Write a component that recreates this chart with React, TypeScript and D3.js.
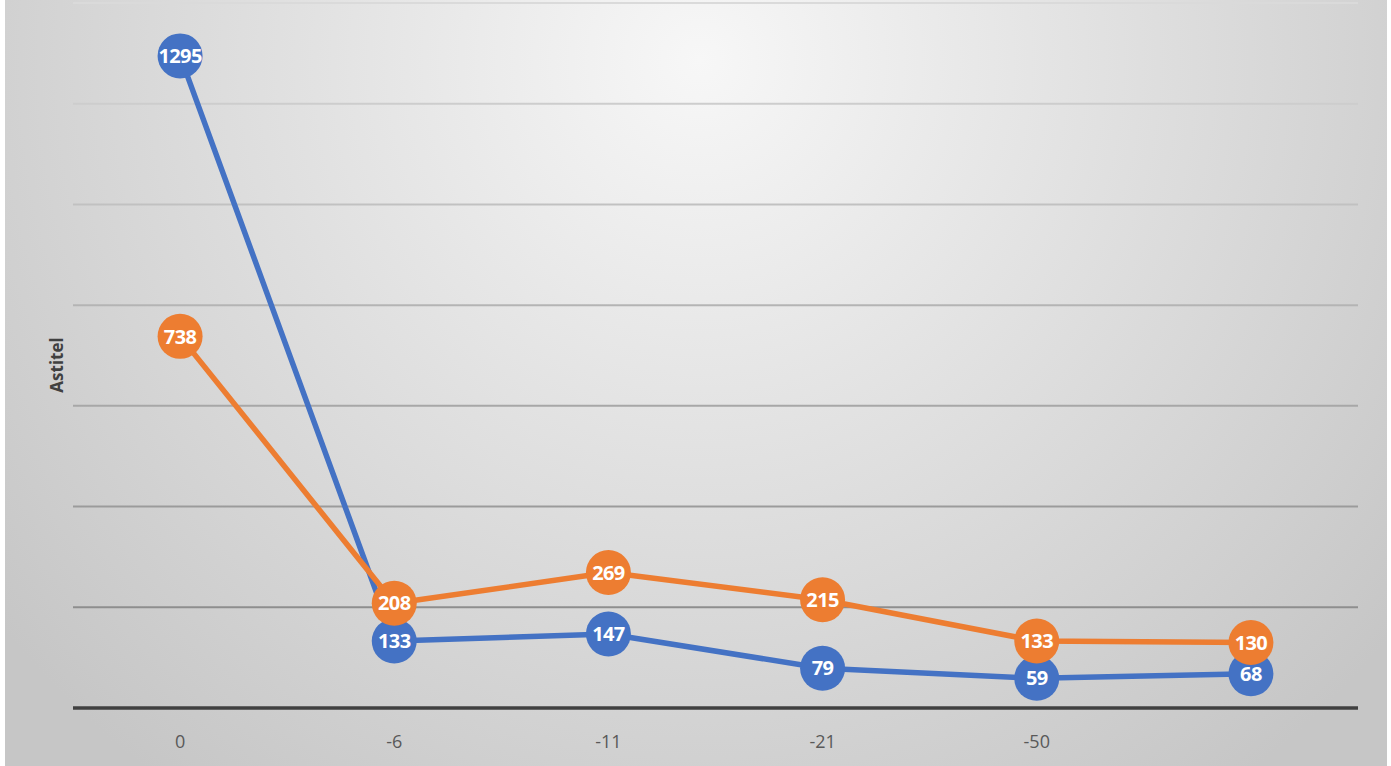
import React from "react";
import * as d3 from "d3";

const categories = ["0", "-6", "-11", "-21", "-50", ""];
const seriesBlue = [1295, 133, 147, 79, 59, 68];
const seriesOrange = [738, 208, 269, 215, 133, 130];
const yTicks = [0, 200, 400, 600, 800, 1000, 1200, 1400];
const yTitle = "Astitel";

const W = 1391;
const H = 766;

export default function App() {
  const x = d3.scaleBand<string>().domain(categories.map((c, i) => String(i))).range([73, 1358]);
  const y = d3.scaleLinear().domain([0, 1400]).range([708, 3]);
  const cx = (i: number) => (x(String(i)) as number) + x.bandwidth() / 2;
  const line = d3
    .line<number>()
    .x((_, i) => cx(i))
    .y((d) => y(d));
  const gridColor = d3.scaleLinear<string>().domain([3, 607]).range(["#dadada", "#8e8e8e"]);

  const series = [
    { values: seriesBlue, color: "#4472C4" },
    { values: seriesOrange, color: "#ED7D31" },
  ];

  return (
    <svg width={W} height={H} style={{ position: "absolute", left: 0, top: 0 }}>
      <defs>
        <radialGradient id="bg" cx="700" cy="60" r="900" gradientUnits="userSpaceOnUse">
          <stop offset="0" stopColor="#f7f7f7" />
          <stop offset="0.55" stopColor="#dcdcdc" />
          <stop offset="1" stopColor="#c6c6c6" />
        </radialGradient>
      </defs>
      <rect x={0} y={0} width={W} height={H} fill="#ffffff" />
      <rect x={5} y={0} width={1382} height={H} fill="url(#bg)" />
      {yTicks.slice(1).map((t) => (
        <line key={t} x1={73} x2={1358} y1={y(t)} y2={y(t)} stroke={gridColor(y(t))} strokeWidth={2} />
      ))}
      <line x1={73} x2={1358} y1={y(0)} y2={y(0)} stroke="#404040" strokeWidth={3.5} />
      {categories.map((c, i) => (
        <text
          key={i}
          x={cx(i)}
          y={748}
          textAnchor="middle"
          fontFamily="'Open Sans', sans-serif"
          fontSize={18}
          fill="#595959"
        >
          {c}
        </text>
      ))}
      <text
        transform={`translate(63,365) rotate(-90)`}
        textAnchor="middle"
        fontFamily="'Open Sans', sans-serif"
        fontWeight="bold"
        fontSize={17}
        fill="#404040"
      >
        {yTitle}
      </text>
      {series.map((s, si) => (
        <g key={si}>
          <path d={line(s.values) || ""} fill="none" stroke={s.color} strokeWidth={5.5} strokeLinejoin="round" />
          {s.values.map((v, i) => (
            <g key={i}>
              <circle cx={cx(i)} cy={y(v)} r={22.5} fill={s.color} />
              <text
                x={cx(i)}
                y={y(v)}
                dy="0.36em"
                textAnchor="middle"
                fontFamily="'Open Sans', sans-serif"
                fontWeight="bold"
                fontSize={20}
                fill="#ffffff"
                letterSpacing={-0.6}
              >
                {v}
              </text>
            </g>
          ))}
        </g>
      ))}
    </svg>
  );
}
